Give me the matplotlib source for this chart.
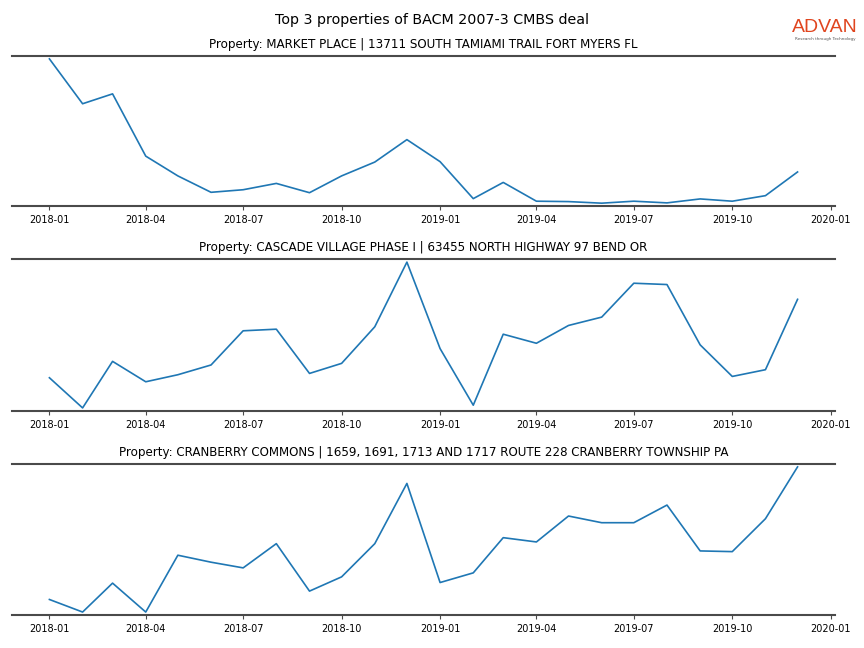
import numpy as np
import pandas as pd
import matplotlib
matplotlib.use('Agg')
import matplotlib.pyplot as plt
import matplotlib.dates as mdates

# monthly visits, Jan 2018 - Dec 2019
months = pd.date_range('2018-01-01', '2019-12-01', freq='MS')

market_place = [1474, 1020, 1120, 490, 290, 124, 150, 214, 120, 290, 430, 657,
                434, 60, 224, 34, 30, 14, 34, 17, 57, 34, 90, 330]
cascade_village = [337, 37, 500, 297, 367, 464, 804, 820, 380, 480, 844, 1487,
                   627, 64, 770, 680, 857, 940, 1277, 1264, 664, 350, 417, 1117]
cranberry_commons = [153, 27, 317, 27, 597, 527, 470, 713, 237, 380, 713, 1317,
                     323, 420, 773, 730, 990, 923, 923, 1100, 640, 633, 963, 1483]

titles = [
    'Property: MARKET PLACE | 13711 SOUTH TAMIAMI TRAIL FORT MYERS FL',
    'Property: CASCADE VILLAGE PHASE I | 63455 NORTH HIGHWAY 97 BEND OR',
    'Property: CRANBERRY COMMONS | 1659, 1691, 1713 AND 1717 ROUTE 228 CRANBERRY TOWNSHIP PA',
]
series = [market_place, cascade_village, cranberry_commons]

fig = plt.figure(figsize=(8.64, 6.48), dpi=100)
boxes = [(0.682, 0.9136), (0.366, 0.600), (0.051, 0.284)]

for (b, t), y, title in zip(boxes, series, titles):
    ax = fig.add_axes([0.0139, b, 0.9525, t - b])
    ax.plot(months, y, color='#1f77b4', lw=1.2)
    ax.margins(y=0.02)
    ax.set_title(title, fontsize=8.6)
    for s in ['left', 'right']:
        ax.spines[s].set_visible(False)
    for s in ['top', 'bottom']:
        ax.spines[s].set_color('#4a4a4a')
        ax.spines[s].set_linewidth(1.5)
    ax.set_yticks([])
    ax.xaxis.set_major_locator(mdates.MonthLocator(bymonth=[1, 4, 7, 10]))
    ax.xaxis.set_major_formatter(mdates.DateFormatter('%Y-%m'))
    ax.tick_params(axis='x', labelsize=7, length=3, color='#4a4a4a')

fig.text(0.5, 0.969, 'Top 3 properties of BACM 2007-3 CMBS deal',
         ha='center', va='center', fontsize=10.3)

# logo
fig.text(0.955, 0.957, 'ADVAN', ha='center', va='center', fontsize=14,
         color='#e0451f', family='Liberation Sans')
fig.text(0.955, 0.94, 'Research through Technology', ha='center', va='center',
         fontsize=3, color='#555555')

plt.savefig('out.png', dpi=100)
